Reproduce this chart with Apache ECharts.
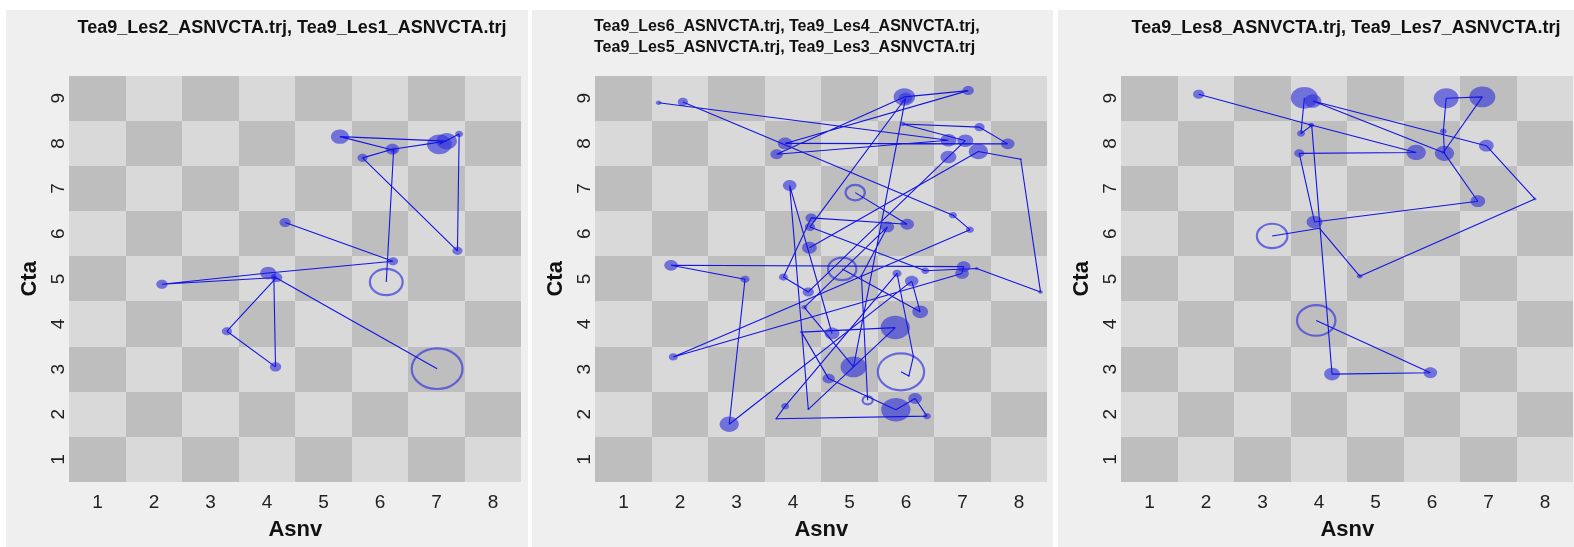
<!DOCTYPE html>
<html>
<head>
<meta charset="utf-8">
<script src="https://cdn.jsdelivr.net/npm/echarts@6/dist/echarts.min.js"></script>
<style>
  html, body { margin: 0; padding: 0; background: #ffffff; width: 1574px; height: 547px; overflow: hidden; }
  .panel { position: absolute; top: 10px; height: 537px; background: #efefef; }
</style>
</head>
<body>
<div id="p1" class="panel" style="left:6px;width:522px"></div>
<div id="p2" class="panel" style="left:532px;width:521px"></div>
<div id="p3" class="panel" style="left:1058px;width:522px"></div>
<script>
// Tick labels of the two scales (one board square per tick pair)
const ASNV_TICKS = [1, 2, 3, 4, 5, 6, 7, 8];
const CTA_TICKS = [1, 2, 3, 4, 5, 6, 7, 8, 9];

// Panel titles
const TITLE_1 = 'Tea9_Les2_ASNVCTA.trj, Tea9_Les1_ASNVCTA.trj';
const TITLE_2 = 'Tea9_Les6_ASNVCTA.trj, Tea9_Les4_ASNVCTA.trj,\nTea9_Les5_ASNVCTA.trj, Tea9_Les3_ASNVCTA.trj';
const TITLE_3 = 'Tea9_Les8_ASNVCTA.trj, Tea9_Les7_ASNVCTA.trj';

// Trajectories: Asnv / Cta position and dwell (bubble radius in scale units).
// The last point of every trajectory is its end state.
const les2_asnv  = [4.32, 6.23, 4.02, 2.14, 4.17, 3.29, 4.15, 4.12, 7.01];
const les2_cta   = [6.25, 5.39, 5.13, 4.88, 5.03, 3.84, 3.05, 5.05, 3.01];
const les2_dwell = [0.10, 0.09, 0.14, 0.10, 0.10, 0.09, 0.10, 0.05, 0.45];

const les1_asnv  = [7.05, 7.40, 7.37, 5.69, 6.22, 7.18, 5.29, 6.24, 6.11];
const les1_cta   = [7.98, 8.21, 5.62, 7.68, 7.87, 8.05, 8.15, 7.85, 4.93];
const les1_dwell = [0.22, 0.07, 0.09, 0.09, 0.12, 0.18, 0.16, 0.06, 0.29];

const les6_asnv  = [1.62, 6.75, 3.71, 5.97, 7.10, 3.86, 7.80, 7.30, 5.94, 7.05, 6.75, 4.27, 3.83, 4.32, 6.02, 5.10];
const les6_cta   = [8.90, 8.07, 7.76, 9.03, 9.17, 8.00, 7.99, 8.36, 8.43, 8.06, 7.70, 4.71, 5.04, 6.35, 6.21, 6.91];
const les6_dwell = [0.05, 0.14, 0.11, 0.19, 0.10, 0.13, 0.12, 0.09, 0.05, 0.14, 0.14, 0.10, 0.08, 0.10, 0.12, 0.17];

const les4_asnv  = [2.05, 6.83, 7.13, 1.88, 6.99, 7.02, 1.84, 3.15, 2.87, 6.10, 6.25, 4.87];
const les4_cta   = [8.92, 6.41, 6.09, 3.27, 5.12, 5.27, 5.30, 4.99, 1.78, 4.95, 4.27, 5.22];
const les4_dwell = [0.09, 0.07, 0.07, 0.08, 0.12, 0.12, 0.12, 0.08, 0.17, 0.12, 0.14, 0.25];

const les5_asnv  = [4.69, 3.94, 4.27, 5.81, 4.15, 4.63, 5.82, 6.16, 6.37, 3.70, 3.86, 5.84, 6.13, 6.05, 5.91];
const les5_cta   = [3.79, 7.07, 2.11, 3.92, 3.82, 2.79, 2.10, 2.35, 1.96, 1.90, 2.18, 5.12, 3.28, 2.85, 2.94];
const les5_dwell = [0.13, 0.12, 0.02, 0.26, 0.03, 0.11, 0.26, 0.12, 0.07, 0.02, 0.07, 0.08, 0.02, 0.02, 0.41];

const les3_asnv  = [4.29, 7.28, 8.03, 8.38, 7.25, 6.34, 4.30, 5.99, 5.07, 4.20, 5.67, 5.21, 5.32];
const les3_cta   = [5.69, 7.82, 7.65, 4.71, 5.23, 5.18, 6.15, 9.00, 3.05, 4.37, 6.15, 5.07, 2.31];
const les3_dwell = [0.13, 0.17, 0.02, 0.04, 0.03, 0.07, 0.09, 0.12, 0.23, 0.05, 0.12, 0.02, 0.09];

const les8_asnv  = [3.74, 3.68, 3.87, 4.23, 5.97, 3.95];
const les8_cta   = [9.01, 8.22, 8.40, 2.89, 2.92, 4.08];
const les8_dwell = [0.24, 0.07, 0.04, 0.14, 0.12, 0.34];

const les7_asnv  = [1.87, 3.86, 5.72, 3.65, 3.92, 6.81, 6.22, 6.20, 6.25, 6.89, 6.20, 3.89, 6.96, 7.82, 4.72, 4.01, 3.17];
const les7_cta   = [9.09, 8.41, 7.80, 7.78, 6.26, 6.72, 7.78, 8.27, 9.00, 9.03, 7.80, 8.94, 7.95, 6.77, 5.06, 6.12, 5.95];
const les7_dwell = [0.10, 0.05, 0.17, 0.09, 0.14, 0.13, 0.17, 0.06, 0.22, 0.23, 0.03, 0.15, 0.13, 0.03, 0.05, 0.02, 0.27];

// ---- styling ----
const FONT = "'Liberation Sans', Arial, sans-serif";
const SQUARE_DARK = '#bebebe';
const SQUARE_LIGHT = '#d9d9d9';
const BUBBLE_FILL = 'rgba(48, 48, 218, 0.62)';
const END_STROKE = 'rgba(60, 60, 222, 0.72)';
const PATH_COLOR = '#1414e4';

function integerLabel(v) {
  return Math.abs(v - Math.round(v)) < 1e-6 ? String(Math.round(v)) : '';
}

function boardSeries() {
  const cells = [];
  ASNV_TICKS.forEach(a => CTA_TICKS.forEach(c => cells.push([a, c])));
  return {
    type: 'custom',
    silent: true,
    z: 1,
    data: cells,
    encode: { x: 0, y: 1 },
    renderItem(params, api) {
      const a = api.value(0), c = api.value(1);
      const p0 = api.coord([a - 0.5, c + 0.5]);
      const p1 = api.coord([a + 0.5, c - 0.5]);
      const x0 = Math.round(p0[0]), y0 = Math.round(p0[1]);
      const x1 = Math.round(p1[0]), y1 = Math.round(p1[1]);
      return {
        type: 'rect',
        shape: { x: x0, y: y0, width: x1 - x0, height: y1 - y0 },
        style: { fill: (a + c) % 2 === 0 ? SQUARE_DARK : SQUARE_LIGHT }
      };
    }
  };
}

function trajectorySeries(asnv, cta, dwell) {
  const n = asnv.length;
  const pts = asnv.map((a, i) => [a, cta[i], dwell[i], i === n - 1 ? 1 : 0]);
  return [
    {
      type: 'custom',
      silent: true,
      z: 2,
      data: pts,
      encode: { x: 0, y: 1 },
      renderItem(params, api) {
        const c = api.coord([api.value(0), api.value(1)]);
        const s = api.size([api.value(2), api.value(2)]);
        const isEnd = api.value(3) === 1;
        return {
          type: 'ellipse',
          shape: { cx: c[0], cy: c[1], rx: s[0], ry: s[1] },
          style: isEnd
            ? { fill: 'none', stroke: END_STROKE, lineWidth: 2.2 }
            : { fill: BUBBLE_FILL }
        };
      }
    },
    {
      type: 'line',
      silent: true,
      z: 3,
      data: pts.map(p => [p[0], p[1]]),
      showSymbol: false,
      symbol: 'none',
      lineStyle: { color: PATH_COLOR, width: 1.1 },
      animation: false
    }
  ];
}

function buildPanel(id, title, trajectories) {
  const chart = echarts.init(document.getElementById(id), null, { renderer: 'canvas' });
  const series = [boardSeries()];
  trajectories.forEach(t => series.push(...trajectorySeries(t[0], t[1], t[2])));
  chart.setOption({
    animation: false,
    backgroundColor: '#efefef',
    title: Object.assign({ padding: 0 }, title),
    grid: { left: 63.3, top: 65.7, width: 452, height: 406.3 },
    xAxis: {
      type: 'value', min: 0.5, max: 8.5, splitNumber: 8,
      axisLine: { show: false }, axisTick: { show: false }, splitLine: { show: false },
      axisLabel: { fontFamily: FONT, fontSize: 19, color: '#222', margin: 11,
                   showMinLabel: false, showMaxLabel: false, formatter: integerLabel },
      name: 'Asnv', nameLocation: 'middle', nameGap: 37,
      nameTextStyle: { fontFamily: FONT, fontSize: 22, fontWeight: 'bold', color: '#111' }
    },
    yAxis: {
      type: 'value', min: 0.5, max: 9.5, splitNumber: 9,
      axisLine: { show: false }, axisTick: { show: false }, splitLine: { show: false },
      axisLabel: { fontFamily: FONT, fontSize: 19, color: '#222', margin: 1, rotate: 90,
                   showMinLabel: false, showMaxLabel: false, formatter: integerLabel },
      name: 'Cta', nameLocation: 'middle', nameGap: 24, nameRotate: 90,
      nameTextStyle: { fontFamily: FONT, fontSize: 22, fontWeight: 'bold', color: '#111' }
    },
    series
  });
}

const titleStyle = { fontFamily: FONT, fontSize: 18, fontWeight: 'bold', color: '#111', lineHeight: 20 };

buildPanel('p1',
  { text: TITLE_1, left: 286, top: 8, textAlign: 'center', textStyle: titleStyle },
  [[les2_asnv, les2_cta, les2_dwell], [les1_asnv, les1_cta, les1_dwell]]);

buildPanel('p2',
  { text: TITLE_2, left: 62, top: 6.5, textAlign: 'left',
    textStyle: Object.assign({}, titleStyle, { fontSize: 16, lineHeight: 21 }) },
  [[les6_asnv, les6_cta, les6_dwell], [les4_asnv, les4_cta, les4_dwell],
   [les5_asnv, les5_cta, les5_dwell], [les3_asnv, les3_cta, les3_dwell]]);

buildPanel('p3',
  { text: TITLE_3, left: 288, top: 8, textAlign: 'center', textStyle: titleStyle },
  [[les8_asnv, les8_cta, les8_dwell], [les7_asnv, les7_cta, les7_dwell]]);
</script>
</body>
</html>
